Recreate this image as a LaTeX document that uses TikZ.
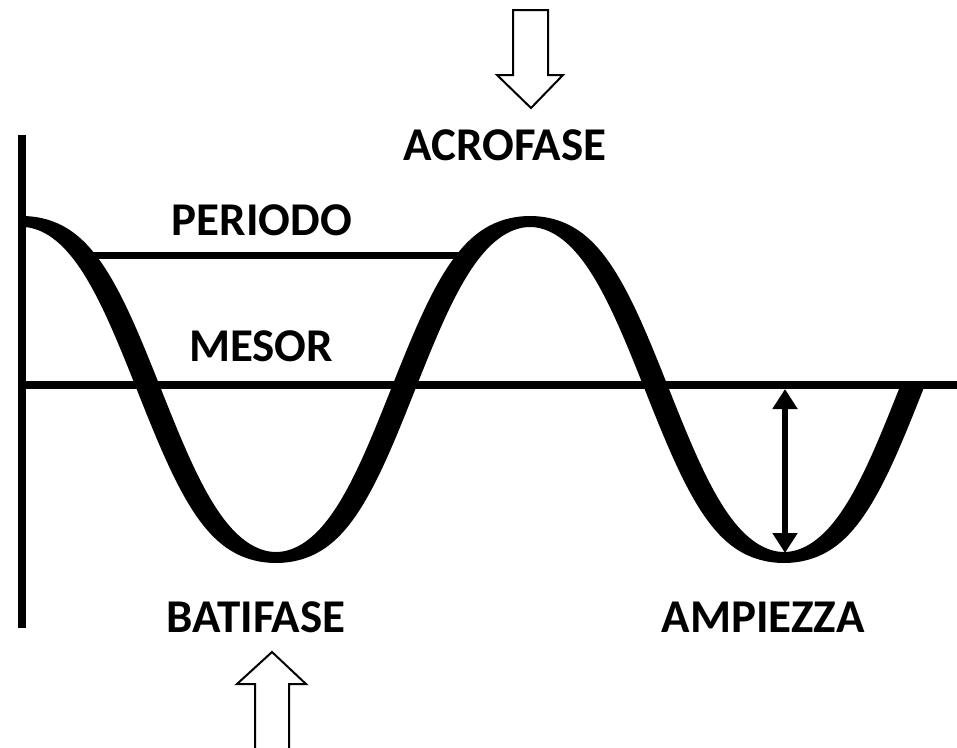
\documentclass[tikz,border=0pt]{standalone}
\usepackage{fontspec}
\setmainfont{Carlito}
\usetikzlibrary{arrows.meta}
\tikzset{
  lbl/.style={inner sep=0pt, font=\fontsize{47}{47}\selectfont\bfseries, text=black},
  axisline/.style={line width=8pt, black},
  periodline/.style={line width=7pt, black},
  amparrow/.style={line width=5.5pt, black, {Triangle[width=24pt,length=20pt]}-{Triangle[width=24pt,length=20pt]}},
  blockarrow/.style={draw=black, fill=white, line width=2pt, line join=miter}
}
\begin{document}
\begin{tikzpicture}[x=1pt,y=-1pt,
  declare function={
    th(\x)=(\x-22)/508*360;
    fy(\x)=389.5-168/0.95*(cos(th(\x))-0.05*cos(3*th(\x)));
    fp(\x)=2.1871*(sin(th(\x))-0.15*sin(3*th(\x)));
    nx(\x)=-144*fp(\x)/sqrt(144*fp(\x)*fp(\x)+30.25);
    ny(\x)=30.25/sqrt(144*fp(\x)*fp(\x)+30.25);
  }]
\useasboundingbox (0,0) rectangle (957,747);
\fill[white] (0,0) rectangle (957,747);

% period line
\coordinate (p1) at (80,255);
\coordinate (p2) at (472,255);
\draw[periodline] (p1) -- (p2);

% axes
\coordinate (vtop) at (22,135);
\coordinate (vbot) at (22,628);
\coordinate (hleft) at (22,385);
\coordinate (hright) at (957,385);
\draw[axisline] (vtop) -- (vbot);
\draw[axisline] (hleft) -- (hright);

% wave (calligraphic stroke)
\fill[black] plot[domain=22:912, samples=320, variable=\x] ({\x+nx(\x)}, {fy(\x)+ny(\x)})
  -- plot[domain=912:22, samples=320, variable=\x] ({\x-nx(\x)}, {fy(\x)-ny(\x)}) -- cycle;

% amplitude arrow
\coordinate (a1) at (785,389);
\coordinate (a2) at (785,553);
\draw[amparrow] (a1) -- (a2);

% block arrows
\draw[blockarrow] (513,10) -- (548,10) -- (548,75) -- (563,75) -- (531,108) -- (497,75) -- (513,75) -- cycle;
\draw[blockarrow] (255,760) -- (255,684) -- (237,684) -- (272,652) -- (306,684) -- (289,684) -- (289,760);

% labels
\node[lbl] (acro) at (505,145) {ACROFASE};
\node[lbl] (peri) at (262,220) {PERIODO};
\node[lbl] (meso) at (261,346) {MESOR};
\node[lbl] (bati) at (256,617) {BATIFASE};
\node[lbl] (ampi) at (763,617) {AMPIEZZA};
\end{tikzpicture}
\end{document}
